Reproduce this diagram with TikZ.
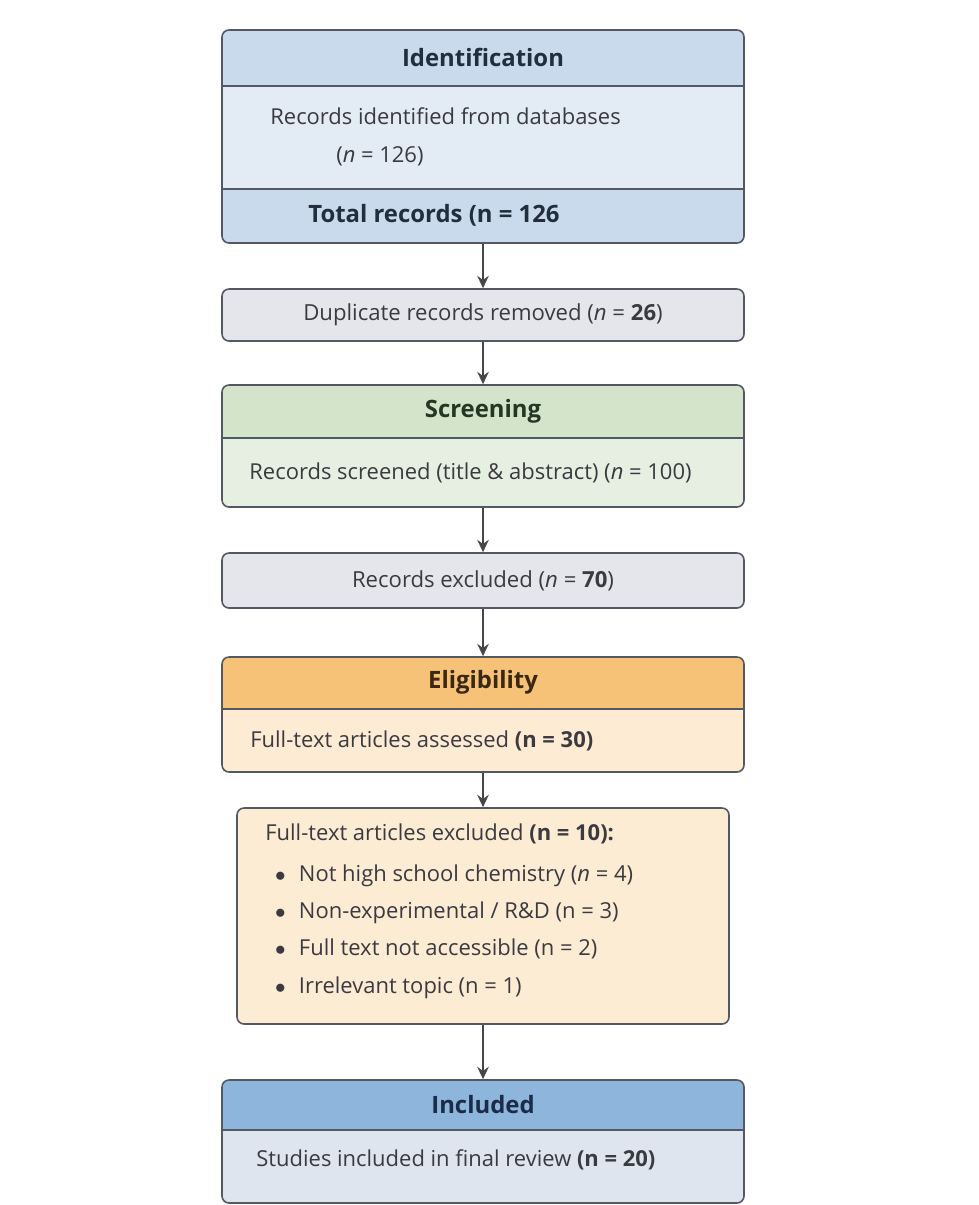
\documentclass[tikz,border=0pt]{standalone}
\usepackage{fontspec}
\setmainfont{Open Sans}
\usetikzlibrary{arrows.meta, calc, positioning}
\definecolor{framegray}{RGB}{84,88,98}
\definecolor{arrowgray}{RGB}{70,70,74}
\definecolor{textgray}{RGB}{58,58,64}
\definecolor{idhead}{RGB}{200,218,236}
\definecolor{idbody}{RGB}{227,236,245}
\definecolor{idink}{RGB}{34,46,62}
\definecolor{dupfill}{RGB}{229,230,235}
\definecolor{scrhead}{RGB}{212,228,202}
\definecolor{scrbody}{RGB}{231,239,226}
\definecolor{scrink}{RGB}{36,54,36}
\definecolor{elhead}{RGB}{246,194,120}
\definecolor{elbody}{RGB}{253,235,212}
\definecolor{elink}{RGB}{60,40,18}
\definecolor{ftfill}{RGB}{253,236,212}
\definecolor{inhead}{RGB}{142,182,220}
\definecolor{inbody}{RGB}{222,229,239}
\definecolor{inink}{RGB}{26,44,72}
\tikzset{
  >=Stealth,
  flow/.style={-{Stealth[length=7pt, width=6.5pt]}, line width=1.4pt, arrowgray},
  stagebox/.style={draw=framegray, line width=0.9pt, rounded corners=4pt,
                   minimum width=10.44cm, inner sep=0pt, text=textgray,
                   font=\fontsize{12.6}{21.3}\selectfont},
  headband/.style 2 args={path picture={
      \fill[#1, sharp corners] (path picture bounding box.north west)
        rectangle ([yshift=-#2]path picture bounding box.north east);}},
  idbands/.style={path picture={
      \fill[idhead, sharp corners] (path picture bounding box.north west)
        rectangle ([yshift=-1.14cm]path picture bounding box.north east);
      \fill[idhead, sharp corners] (path picture bounding box.south west)
        rectangle ([yshift=1.10cm]path picture bounding box.south east);}},
  divider/.style={framegray, line width=0.9pt},
  stagetitle/.style={font=\fontsize{13.6}{16}\selectfont\bfseries},
  bodytext/.style={font=\fontsize{12.5}{21.3}\selectfont, text=textgray,
                   inner sep=0pt, align=left},
}

\begin{document}
\begin{tikzpicture}
  \useasboundingbox (0,0) rectangle (19.58,-24.10);
  \fill[white] (0,0) rectangle (19.58,-24.10);

  % ---- Identification ----
  \node[stagebox, fill=idbody, idbands, minimum height=4.26cm]
    (idbox) at (9.66,-2.73) {};
  \draw[divider] ([yshift=-1.14cm]idbox.north west)
    -- ([yshift=-1.14cm]idbox.north east);
  \draw[divider] ([yshift=1.10cm]idbox.south west)
    -- ([yshift=1.10cm]idbox.south east);
  \node[stagetitle, text=idink] (idtitle)
    at ([yshift=-0.57cm]idbox.north) {Identification};
  \node[bodytext, anchor=west] (idrec) at (5.40,-2.74)
    {Records identified from databases\\\hspace*{3.0em}(\textit{n} = 126)};
  \node[bodytext, font=\fontsize{13.6}{16}\selectfont\bfseries,
        text=idink, anchor=west] (idtotal) at (6.16,-4.30)
    {Total records (n = 126};

  % ---- Duplicates ----
  \node[stagebox, fill=dupfill, minimum height=1.04cm]
    (dupbox) at (9.66,-6.30)
    {Duplicate records removed (\textit{n} = \textbf{26})};

  % ---- Screening ----
  \node[stagebox, fill=scrbody, headband={scrhead}{1.08cm},
        minimum height=2.44cm] (scrbox) at (9.66,-8.92) {};
  \draw[divider] ([yshift=-1.08cm]scrbox.north west)
    -- ([yshift=-1.08cm]scrbox.north east);
  \node[stagetitle, text=scrink] (scrtitle)
    at ([yshift=-0.54cm]scrbox.north) {Screening};
  \node[bodytext] (scrtext) at (9.41,-9.46)
    {Records screened (title \& abstract) (\textit{n} = 100)};

  % ---- Records excluded ----
  \node[stagebox, fill=dupfill, minimum height=1.10cm]
    (rexbox) at (9.66,-11.61)
    {Records excluded (\textit{n} = \textbf{70})};

  % ---- Eligibility ----
  \node[stagebox, fill=elbody, headband={elhead}{1.06cm},
        minimum height=2.30cm] (elbox) at (9.66,-14.29) {};
  \draw[divider] ([yshift=-1.06cm]elbox.north west)
    -- ([yshift=-1.06cm]elbox.north east);
  \node[stagetitle, text=elink] (eltitle)
    at ([yshift=-0.53cm]elbox.north) {Eligibility};
  \node[bodytext, anchor=west] (eltext) at (5.00,-14.82)
    {Full-text articles assessed \textbf{(n = 30)}};

  % ---- Full-text exclusions ----
  \node[stagebox, fill=ftfill, minimum width=9.84cm,
        minimum height=4.32cm] (ftbox) at (9.66,-18.32) {};
  \node[bodytext, anchor=west] (fttext) at (5.30,-18.22)
    {Full-text articles excluded \textbf{(n = 10):}\\[2pt]
     \hspace*{0.45em}$\bullet$\hspace{0.6em}Not high school chemistry (\textit{n} = 4)\\
     \hspace*{0.45em}$\bullet$\hspace{0.6em}Non-experimental / R\&D (n = 3)\\
     \hspace*{0.45em}$\bullet$\hspace{0.6em}Full text not accessible (n = 2)\\
     \hspace*{0.45em}$\bullet$\hspace{0.6em}Irrelevant topic (n = 1)};

  % ---- Included ----
  \node[stagebox, fill=inbody, headband={inhead}{1.02cm},
        minimum height=2.46cm] (inbox) at (9.66,-22.83) {};
  \draw[divider] ([yshift=-1.02cm]inbox.north west)
    -- ([yshift=-1.02cm]inbox.north east);
  \node[stagetitle, text=inink] (intitle)
    at ([yshift=-0.51cm]inbox.north) {Included};
  \node[bodytext, anchor=west] (intext) at (5.12,-23.20)
    {Studies included in final review \textbf{(n = 20)}};

  % ---- Flow arrows ----
  \draw[flow] (idbox) -- (dupbox);
  \draw[flow] (dupbox) -- (scrbox);
  \draw[flow] (scrbox) -- (rexbox);
  \draw[flow] (rexbox) -- (elbox);
  \draw[flow] (elbox) -- (ftbox);
  \draw[flow] (ftbox) -- (inbox);

\end{tikzpicture}
\end{document}
